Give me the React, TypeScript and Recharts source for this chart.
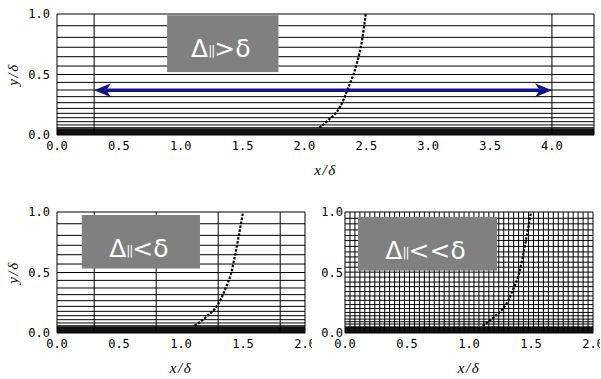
import React from 'react';
import { ComposedChart, XAxis, YAxis, Line, ReferenceLine, ReferenceArea } from 'recharts';

// Wall-normal mesh levels (y/δ) of the stretched grid, coarse meshes
const coarseLevels = [0.06, 0.083, 0.11, 0.143, 0.179, 0.22, 0.267, 0.317, 0.372, 0.435, 0.5, 0.57, 0.647, 0.725, 0.807, 0.903];
// Wall-normal mesh levels (y/δ) of the refined grid
const fineLevels = [0.074, 0.093, 0.115, 0.142, 0.17, 0.202, 0.235, 0.27, 0.306, 0.342, 0.383, 0.421, 0.462, 0.503, 0.544, 0.585, 0.629, 0.67, 0.716, 0.765, 0.806, 0.852, 0.902, 0.948];
// Near-wall layer where lines merge into a solid band
const wallBand = [0, 0.055];

// Streamwise stations (x/δ)
const wideStations = [0.3, 4.0];
const midStations = [0.3, 0.8, 1.3, 1.8];
const fineStations = [
  0.04, 0.08, 0.12, 0.16, 0.2, 0.24, 0.28, 0.32, 0.36, 0.4, 0.44, 0.48, 0.52, 0.56, 0.6, 0.64,
  0.68, 0.72, 0.76, 0.8, 0.84, 0.88, 0.92, 0.96, 1.0, 1.04, 1.08, 1.12, 1.16, 1.2, 1.24, 1.28,
  1.32, 1.36, 1.4, 1.44, 1.48, 1.52, 1.56, 1.6, 1.64, 1.68, 1.72, 1.76, 1.8, 1.84, 1.88, 1.92, 1.96,
];

// Boundary-layer edge profiles
const wideProfile = [
  { x: 2.12, y: 0.06 }, { x: 2.2, y: 0.13 }, { x: 2.29, y: 0.235 }, { x: 2.35, y: 0.38 },
  { x: 2.42, y: 0.58 }, { x: 2.465, y: 0.78 }, { x: 2.495, y: 1.0 },
];
const narrowProfile = [
  { x: 1.11, y: 0.06 }, { x: 1.2, y: 0.13 }, { x: 1.3, y: 0.24 }, { x: 1.36, y: 0.37 },
  { x: 1.4, y: 0.48 }, { x: 1.46, y: 0.77 }, { x: 1.5, y: 1.0 },
];

// Spacing arrow between the two stations
const arrowEnds = [0.3, 4.0];
const arrowLevel = 0.37;

const wideXTicks = [0, 0.5, 1, 1.5, 2, 2.5, 3, 3.5, 4];
const narrowXTicks = [0, 0.5, 1, 1.5, 2];
const yTicks = [0, 0.5, 1];

const fmt = (v: number) => v.toFixed(1);
const tickStyle = { fill: '#000', fontSize: 12, fontFamily: 'DejaVu Sans Mono' };

const XTitle = (p: any) => {
  const vb = p.viewBox;
  return (
    <text x={vb.x + vb.width / 2} y={vb.y + vb.height - 5} textAnchor="middle"
      fontFamily="Liberation Serif" fontStyle="italic" fontSize={15} letterSpacing={1.5} fill="#000">
      x/δ
    </text>
  );
};

const YTitle = (p: any) => {
  const vb = p.viewBox;
  const cx = 13;
  const cy = vb.y + vb.height / 2;
  return (
    <text x={cx} y={cy} transform={`rotate(-90 ${cx} ${cy})`} textAnchor="middle" dominantBaseline="central"
      fontFamily="Liberation Serif" fontStyle="italic" fontSize={15} letterSpacing={1.5} fill="#000">
      y/δ
    </text>
  );
};

const ArrowShape = (p: any) => {
  const { x1, y1, x2 } = p;
  const y = y1;
  const c = '#12128a';
  return (
    <g>
      <line x1={x1 + 10} y1={y} x2={x2 - 10} y2={y} stroke={c} strokeWidth={3.5} />
      <polygon points={`${x1},${y} ${x1 + 17},${y - 7} ${x1 + 12},${y} ${x1 + 17},${y + 7}`} fill={c} />
      <polygon points={`${x2},${y} ${x2 - 17},${y - 7} ${x2 - 12},${y} ${x2 - 17},${y + 7}`} fill={c} />
    </g>
  );
};

// Grey tag spanning the segment's diagonal, with the resolution relation inside
const tagShape = (rel: string) => (p: any) => {
  const left = Math.min(p.x1, p.x2);
  const top = Math.min(p.y1, p.y2);
  const w = Math.abs(p.x2 - p.x1);
  const h = Math.abs(p.y2 - p.y1);
  return (
    <g>
      <rect x={left} y={top} width={w} height={h} fill="#808080" />
      <text x={left + w / 2 - 2} y={top + 42} textAnchor="middle" fontFamily="DejaVu Sans" fontSize={25} fill="#fff">
        <tspan>Δ</tspan>
        <tspan fontSize={12} dy={-2} letterSpacing={-1}>||</tspan>
        <tspan dy={2}>{rel}δ</tspan>
      </text>
    </g>
  );
};

type Box = { x1: number; x2: number; y1: number; y2: number; rel: string };

type PanelProps = {
  width: number;
  xMax: number;
  xTicks: number[];
  levels: number[];
  stations: number[];
  profile: { x: number; y: number }[];
  box: Box;
  showYTitle: boolean;
  yTickGap: number;
  arrow?: boolean;
};

function Panel({ width, xMax, xTicks, levels, stations, profile, box, showYTitle, yTickGap, arrow }: PanelProps) {
  return (
    <ComposedChart width={width} height={180} margin={{ top: 14, right: 7, left: 0, bottom: 0 }}>
      <XAxis type="number" dataKey="x" domain={[0, xMax]} ticks={xTicks} interval={0} tickFormatter={fmt}
        tickSize={0} tickMargin={6} axisLine={false} height={45} tick={tickStyle} allowDataOverflow
        label={{ content: XTitle }} />
      <YAxis type="number" dataKey="y" domain={[0, 1]} ticks={yTicks} interval={0} tickFormatter={fmt}
        tickSize={0} tickMargin={yTickGap} axisLine={false} width={57} tick={tickStyle} allowDataOverflow
        label={showYTitle ? { content: YTitle } : undefined} />
      <ReferenceArea x1={0} x2={xMax} y1={wallBand[0]} y2={wallBand[1]} fill="#111" fillOpacity={1} stroke="none" />
      {levels.map((v) => (
        <ReferenceLine key={`h${v}`} y={v} stroke="#000" strokeWidth={1} />
      ))}
      {stations.map((v) => (
        <ReferenceLine key={`v${v}`} x={v} stroke="#000" strokeWidth={1} />
      ))}
      <Line data={profile} dataKey="y" type="monotone" stroke="#000" strokeWidth={2.2}
        strokeDasharray="2.5 1.5" dot={false} isAnimationActive={false} />
      {arrow && (
        <ReferenceLine segment={[{ x: arrowEnds[0], y: arrowLevel }, { x: arrowEnds[1], y: arrowLevel }]}
          shape={ArrowShape} />
      )}
      <ReferenceLine segment={[{ x: box.x1, y: box.y2 }, { x: box.x2, y: box.y1 }]} shape={tagShape(box.rel)} />
      <ReferenceArea x1={0} x2={xMax} y1={0} y2={1} fill="none" stroke="#000" strokeWidth={1} />
    </ComposedChart>
  );
}

export default function App() {
  return (
    <div style={{ position: 'absolute', left: 0, top: 0, width: 601, height: 379, background: '#fff', overflow: 'hidden' }}>
      <div style={{ position: 'absolute', left: 0, top: 0 }}>
        <Panel width={601} xMax={4.34} xTicks={wideXTicks} levels={coarseLevels} stations={wideStations}
          profile={wideProfile} box={{ x1: 0.89, x2: 1.79, y1: 0.52, y2: 0.99, rel: '>' }}
          showYTitle yTickGap={7} arrow />
      </div>
      <div style={{ position: 'absolute', left: 0, top: 198 }}>
        <Panel width={312} xMax={2} xTicks={narrowXTicks} levels={coarseLevels} stations={midStations}
          profile={narrowProfile} box={{ x1: 0.2, x2: 1.153, y1: 0.533, y2: 0.975, rel: '<' }}
          showYTitle yTickGap={7} />
      </div>
      <div style={{ position: 'absolute', left: 288, top: 198 }}>
        <Panel width={312} xMax={2} xTicks={narrowXTicks} levels={fineLevels} stations={fineStations}
          profile={narrowProfile} box={{ x1: 0.105, x2: 1.226, y1: 0.516, y2: 0.96, rel: '<<' }}
          showYTitle={false} yTickGap={2} />
      </div>
    </div>
  );
}
